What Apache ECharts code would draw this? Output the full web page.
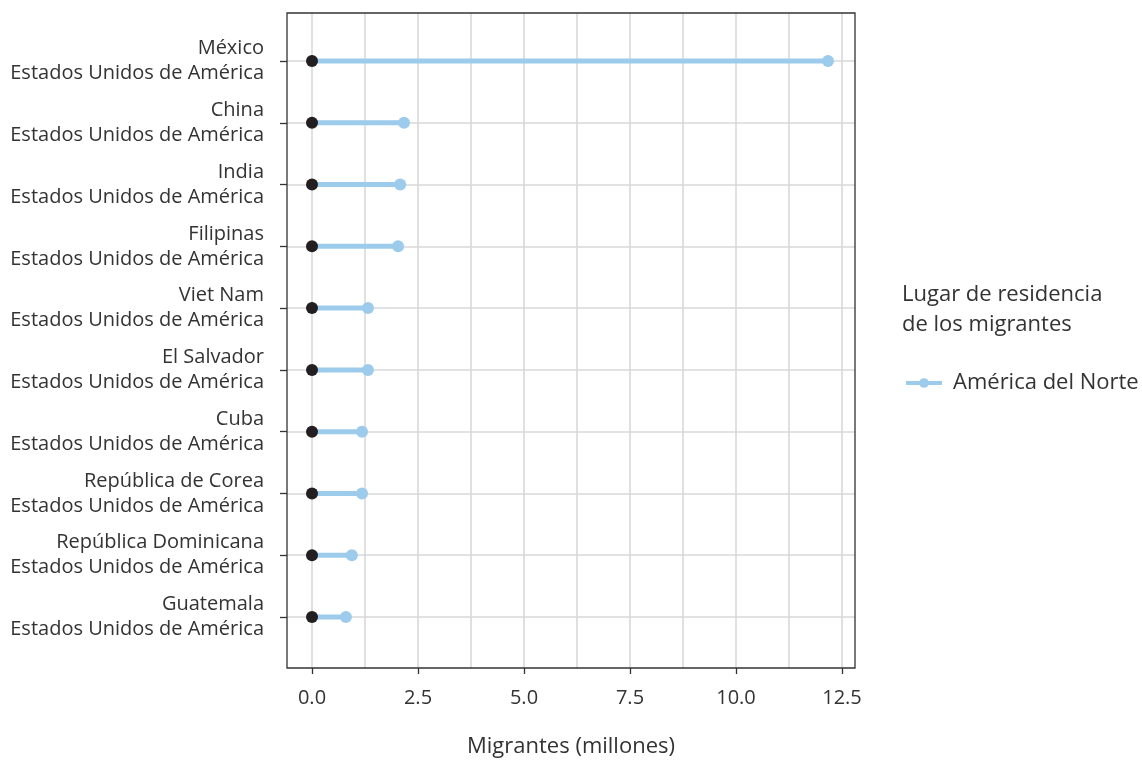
<!DOCTYPE html>
<html>
<head>
<meta charset="utf-8">
<script src="https://cdn.jsdelivr.net/npm/echarts@6/dist/echarts.min.js"></script>
<style>
html,body{margin:0;padding:0;background:#fff;}
#chart{width:1142px;height:760px;}
</style>
</head>
<body>
<div id="chart"></div>
<script>
const categories = [
  'México\nEstados Unidos de América',
  'China\nEstados Unidos de América',
  'India\nEstados Unidos de América',
  'Filipinas\nEstados Unidos de América',
  'Viet Nam\nEstados Unidos de América',
  'El Salvador\nEstados Unidos de América',
  'Cuba\nEstados Unidos de América',
  'República de Corea\nEstados Unidos de América',
  'República Dominicana\nEstados Unidos de América',
  'Guatemala\nEstados Unidos de América'
];
const migrants = [12.17, 2.17, 2.08, 2.03, 1.32, 1.32, 1.18, 1.18, 0.94, 0.80];
const origin = [0, 0, 0, 0, 0, 0, 0, 0, 0, 0];
const xTicks = [0, 2.5, 5, 7.5, 10, 12.5];
const seriesName = 'América del Norte';
const legendTitle = 'Lugar de residencia\nde los migrantes';
const xTitle = 'Migrantes (millones)';

const FONT = 'Open Sans';
const TXT = '#333333';
const BLUE = '#9ccbec';
const DARK = '#231f20';
const GRIDC = '#d9d9d9';

const P = {left: 287, top: 13, width: 568, height: 655};
const X0 = 312, XW = 530;
const Y0 = 61, YH = 556;

const chart = echarts.init(document.getElementById('chart'), null, {renderer: 'canvas'});

chart.setOption({
  backgroundColor: '#ffffff',
  animation: false,
  textStyle: {fontFamily: FONT},
  title: {
    text: legendTitle,
    left: 902, top: 280, padding: 0,
    textStyle: {fontFamily: FONT, fontSize: 22, fontWeight: 'normal', color: TXT, lineHeight: 30}
  },
  legend: {
    data: [seriesName],
    left: 904, top: 372, padding: 0,
    itemWidth: 36, itemHeight: 12, itemGap: 10,
    lineStyle: {width: 4},
    textStyle: {fontFamily: FONT, fontSize: 22, color: TXT, padding: [0, 0, 0, 6]}
  },
  grid: [
    {left: X0, top: Y0, width: XW, height: YH, outerBoundsMode: 'none'},
    {left: X0, top: P.top, width: XW, height: P.height, outerBoundsMode: 'none'},
    {left: P.left, top: Y0, width: P.width, height: YH, outerBoundsMode: 'none'},
    {left: P.left, top: P.top, width: P.width, height: P.height, outerBoundsMode: 'none', show: true, borderColor: '#333333', borderWidth: 1.3, backgroundColor: 'transparent', z: 5}
  ],
  xAxis: [
    {gridIndex: 0, type: 'value', min: xTicks[0], max: xTicks[xTicks.length - 1], show: false},
    {gridIndex: 1, type: 'value', min: xTicks[0], max: xTicks[xTicks.length - 1], interval: xTicks[1] - xTicks[0],
      axisLine: {show: false},
      axisTick: {show: true, length: 6, lineStyle: {color: '#333', width: 1.3}},
      minorTick: {show: false, splitNumber: 2},
      splitLine: {show: true, lineStyle: {color: GRIDC, width: 1.6}},
      minorSplitLine: {show: true, lineStyle: {color: GRIDC, width: 1.6}},
      axisLabel: {fontFamily: FONT, fontSize: 20, color: TXT, margin: 20,
        formatter: v => v.toFixed(1)}
    },
    {gridIndex: 2, type: 'value', min: 0, max: 1, show: false},
    {gridIndex: 3, type: 'value', min: 0, max: 1, show: true,
      axisLine: {show: false}, axisTick: {show: false}, axisLabel: {show: false}, splitLine: {show: false},
      name: xTitle, nameLocation: 'middle', nameGap: 68,
      nameTextStyle: {fontFamily: FONT, fontSize: 22, color: TXT}
    }
  ],
  yAxis: [
    {gridIndex: 0, type: 'category', data: categories, boundaryGap: false, inverse: true, show: false},
    {gridIndex: 1, type: 'value', min: 0, max: 1, show: false},
    {gridIndex: 2, type: 'category', data: categories, boundaryGap: false, inverse: true,
      axisLine: {show: false},
      axisTick: {show: true, length: 7, alignWithLabel: true, lineStyle: {color: '#333', width: 1.3}},
      splitLine: {show: true, lineStyle: {color: GRIDC, width: 1.6}},
      axisLabel: {fontFamily: FONT, fontSize: 20, color: TXT, margin: 23, lineHeight: 25, align: 'right', interval: 0}
    },
    {gridIndex: 3, type: 'value', min: 0, max: 1, show: false}
  ],
  series: [
    {
      name: 'stem', type: 'bar', xAxisIndex: 0, yAxisIndex: 0,
      data: migrants, barWidth: 5, itemStyle: {color: BLUE}, z: 3, silent: true
    },
    {
      name: 'end', type: 'scatter', xAxisIndex: 0, yAxisIndex: 0,
      data: migrants.map((v, i) => [v, i]), symbol: 'circle', symbolSize: 12,
      itemStyle: {color: BLUE, opacity: 1}, z: 4
    },
    {
      name: 'origin', type: 'scatter', xAxisIndex: 0, yAxisIndex: 0,
      data: origin.map((v, i) => [v, i]), symbol: 'circle', symbolSize: 12,
      itemStyle: {color: DARK, opacity: 1}, z: 6
    },
    {
      name: seriesName, type: 'line', xAxisIndex: 0, yAxisIndex: 0, data: [],
      color: BLUE, symbol: 'circle', symbolSize: 11,
      lineStyle: {color: BLUE, width: 4}, itemStyle: {color: BLUE}
    }
  ]
});
</script>
</body>
</html>
